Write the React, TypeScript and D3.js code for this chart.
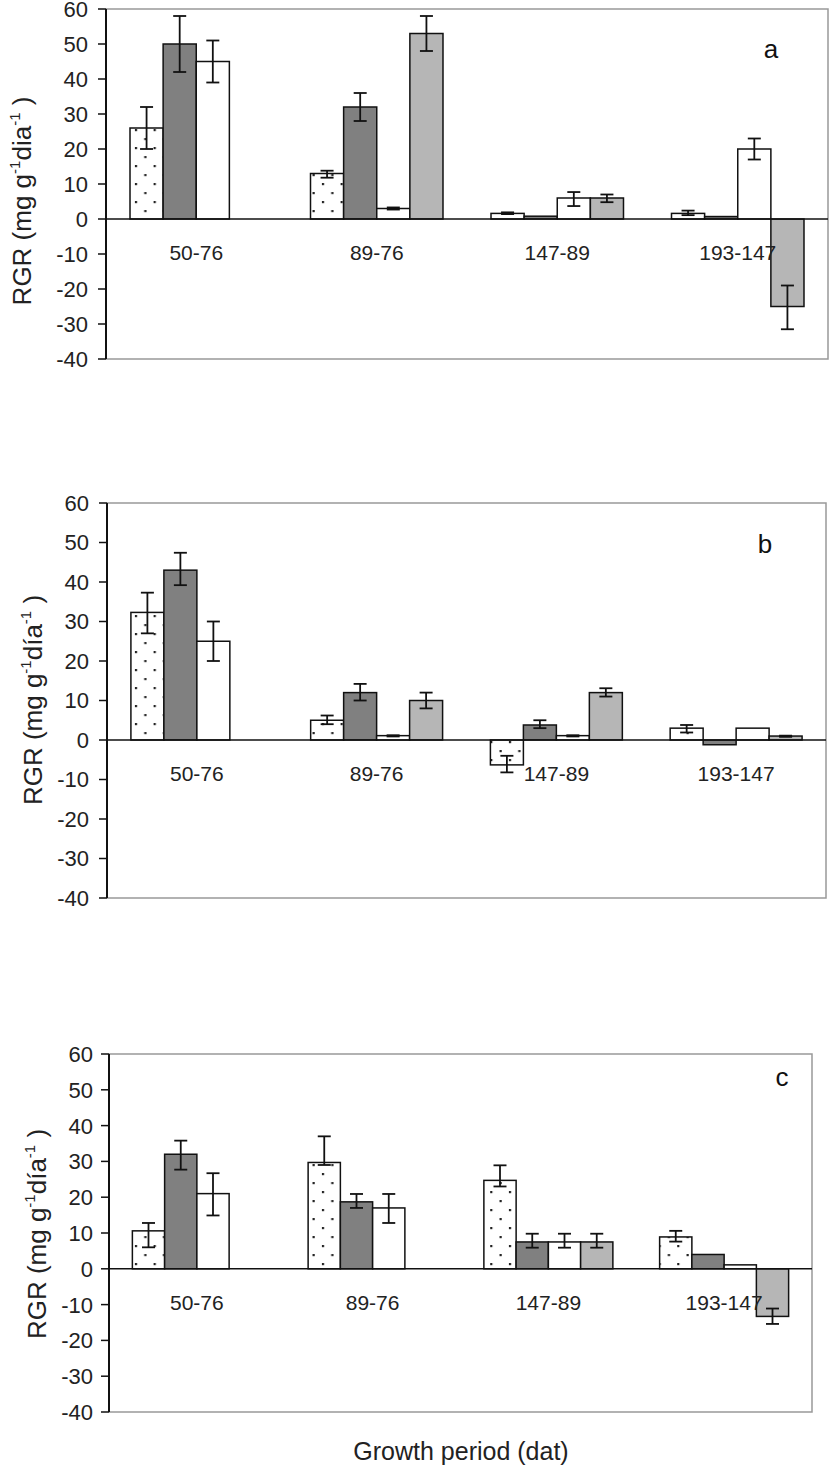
import React from 'react';
import * as d3 from 'd3';

// growth periods (days after transplant) and y ticks
const periods = ['50-76', '89-76', '147-89', '193-147'];
const yTicks = [-40, -30, -20, -10, 0, 10, 20, 30, 40, 50, 60];
const seriesKeys = ['dotted', 'dark', 'white', 'light'];

type Val = number | null;
type Err = [number, number] | null;

// panel a
const aDotted: Val[] = [26, 13, 1.6, 1.6];
const aDark: Val[] = [50, 32, 0.8, 0.7];
const aWhite: Val[] = [45, 3, 6, 20];
const aLight: Val[] = [null, 53, 6, -25];
const aDottedErr: Err[] = [[20, 32], [11.8, 13.8], [1.4, 1.9], [1.1, 2.4]];
const aDarkErr: Err[] = [[42, 58], [28, 36], null, null];
const aWhiteErr: Err[] = [[39, 51], [2.7, 3.3], [3.7, 7.7], [17, 23]];
const aLightErr: Err[] = [null, [48, 58], [4.8, 7], [-31.5, -19]];

// panel b
const bDotted: Val[] = [32.3, 5, -6.3, 3];
const bDark: Val[] = [43, 12, 3.8, -1.2];
const bWhite: Val[] = [25, 1.1, 1.1, 3];
const bLight: Val[] = [null, 10, 12, 1];
const bDottedErr: Err[] = [[27, 37.3], [4, 6.2], [-8.2, -4], [1.9, 3.8]];
const bDarkErr: Err[] = [[39.2, 47.4], [10, 14.2], [3, 5], null];
const bWhiteErr: Err[] = [[20, 30], [0.9, 1.2], [0.9, 1.2], null];
const bLightErr: Err[] = [null, [8, 12], [11, 13.1], [0.8, 1.1]];

// panel c
const cDotted: Val[] = [10.6, 29.7, 24.7, 8.9];
const cDark: Val[] = [32, 18.7, 7.5, 4];
const cWhite: Val[] = [21, 17, 7.5, 1.1];
const cLight: Val[] = [null, null, 7.5, -13.3];
const cDottedErr: Err[] = [[6, 12.8], [29, 37], [23, 28.9], [7.6, 10.6]];
const cDarkErr: Err[] = [[27.7, 35.8], [17, 20.9], [5.9, 9.8], null];
const cWhiteErr: Err[] = [[14.9, 26.7], [12.8, 20.9], [5.9, 9.8], null];
const cLightErr: Err[] = [null, null, [5.9, 9.8], [-15.4, -11.1]];

const fills: Record<string, string> = {
  dotted: 'url(#dots)',
  dark: '#808080',
  white: '#ffffff',
  light: '#b6b6b6',
};

const FONT = '"Liberation Sans", Arial, sans-serif';
const INK = '#222';

interface PanelProps {
  left: number;
  right: number;
  top: number;
  bottom: number;
  values: Val[][];
  errors: Err[][];
  letter: string;
  letterX: number;
  letterY: number;
  dia: string;
  titleX: number;
  titleY: number;
  tickRight: number;
}

const Panel: React.FC<PanelProps> = (p) => {
  const y = d3.scaleLinear().domain([-40, 60]).range([p.bottom, p.top]);
  const x0 = d3.scaleBand().domain(periods).range([p.left, p.right]).padding(0);
  const bw = x0.bandwidth();
  const x1 = d3
    .scaleBand()
    .domain(seriesKeys)
    .range([bw * 0.133, bw * 0.867])
    .padding(0);
  const zero = y(0);

  return (
    <g>
      {/* frame */}
      <path
        d={`M${p.left},${p.top}H${p.right}V${p.bottom}H${p.left}`}
        fill="none"
        stroke="#999"
        strokeWidth={1.5}
      />
      {/* bars */}
      {seriesKeys.map((k, si) =>
        periods.map((per, gi) => {
          const v = p.values[si][gi];
          if (v === null) return null;
          const bx = x0(per)! + x1(k)!;
          return (
            <rect
              key={`${k}-${per}`}
              x={bx}
              y={Math.min(y(v), zero)}
              width={x1.bandwidth()}
              height={Math.abs(y(v) - zero)}
              fill={fills[k]}
              stroke="#111"
              strokeWidth={1.5}
            />
          );
        }),
      )}
      {/* error bars */}
      {seriesKeys.map((k, si) =>
        periods.map((per, gi) => {
          const e = p.errors[si][gi];
          if (!e) return null;
          const cx = x0(per)! + x1(k)! + x1.bandwidth() / 2;
          const hw = 6.5;
          return (
            <g key={`e-${k}-${per}`} stroke="#111" strokeWidth={1.8}>
              <line x1={cx} x2={cx} y1={y(e[0])} y2={y(e[1])} />
              <line x1={cx - hw} x2={cx + hw} y1={y(e[0])} y2={y(e[0])} />
              <line x1={cx - hw} x2={cx + hw} y1={y(e[1])} y2={y(e[1])} />
            </g>
          );
        }),
      )}
      {/* zero line */}
      <line x1={p.left} x2={p.right} y1={zero} y2={zero} stroke="#111" strokeWidth={1.5} />
      {/* y axis */}
      <line x1={p.left} x2={p.left} y1={p.top} y2={p.bottom} stroke="#111" strokeWidth={2} />
      {yTicks.map((t) => (
        <g key={t}>
          <line x1={p.left - 8} x2={p.left} y1={y(t)} y2={y(t)} stroke="#111" strokeWidth={1.5} />
          <text
            x={p.tickRight}
            y={y(t)}
            dy="0.36em"
            textAnchor="end"
            fontSize={22}
            fontFamily={FONT}
            fill={INK}
          >
            {t}
          </text>
        </g>
      ))}
      {/* category labels */}
      {periods.map((per) => (
        <text
          key={per}
          x={x0(per)! + bw / 2}
          y={zero + 41}
          textAnchor="middle"
          fontSize={21}
          fontFamily={FONT}
          fill={INK}
        >
          {per}
        </text>
      ))}
      {/* panel letter */}
      <text
        x={p.letterX}
        y={p.letterY}
        textAnchor="middle"
        fontSize={26}
        fontFamily={FONT}
        fill="#111"
      >
        {p.letter}
      </text>
      {/* y title */}
      <text
        transform={`translate(${p.titleX},${p.titleY}) rotate(-90)`}
        textAnchor="middle"
        fontSize={26}
        fontFamily={FONT}
        fill={INK}
      >
        <tspan>RGR (mg g</tspan>
        <tspan fontSize={15} dy={-11}>-1</tspan>
        <tspan dy={11}>{p.dia}</tspan>
        <tspan fontSize={15} dy={-11}>-1</tspan>
        <tspan dy={11}> )</tspan>
      </text>
    </g>
  );
};

export default function App() {
  return (
    <svg
      width={830}
      height={1468}
      style={{ position: 'absolute', left: 0, top: 0, background: '#fff' }}
    >
      <defs>
        <pattern id="dots" patternUnits="userSpaceOnUse" width={18.7} height={18} x={4} y={3}>
          <rect width={18.7} height={18} fill="#fff" />
          <rect x={0} y={0} width={2.2} height={2.2} fill="#222" />
          <rect x={9.35} y={9} width={2.2} height={2.2} fill="#222" />
        </pattern>
      </defs>
      <Panel
        left={106}
        right={828}
        top={9}
        bottom={359}
        values={[aDotted, aDark, aWhite, aLight]}
        errors={[aDottedErr, aDarkErr, aWhiteErr, aLightErr]}
        letter="a"
        letterX={771}
        letterY={58}
        dia="dia"
        titleX={31}
        titleY={201}
        tickRight={88}
      />
      <Panel
        left={107}
        right={826}
        top={503}
        bottom={898}
        values={[bDotted, bDark, bWhite, bLight]}
        errors={[bDottedErr, bDarkErr, bWhiteErr, bLightErr]}
        letter="b"
        letterX={765}
        letterY={553}
        dia="día"
        titleX={42}
        titleY={700}
        tickRight={89}
      />
      <Panel
        left={109}
        right={812}
        top={1054}
        bottom={1412}
        values={[cDotted, cDark, cWhite, cLight]}
        errors={[cDottedErr, cDarkErr, cWhiteErr, cLightErr]}
        letter="c"
        letterX={782}
        letterY={1086}
        dia="día"
        titleX={46}
        titleY={1234}
        tickRight={93}
      />
      <text
        x={461}
        y={1460}
        textAnchor="middle"
        fontSize={25}
        fontFamily={FONT}
        fill={INK}
      >
        Growth period (dat)
      </text>
    </svg>
  );
}
